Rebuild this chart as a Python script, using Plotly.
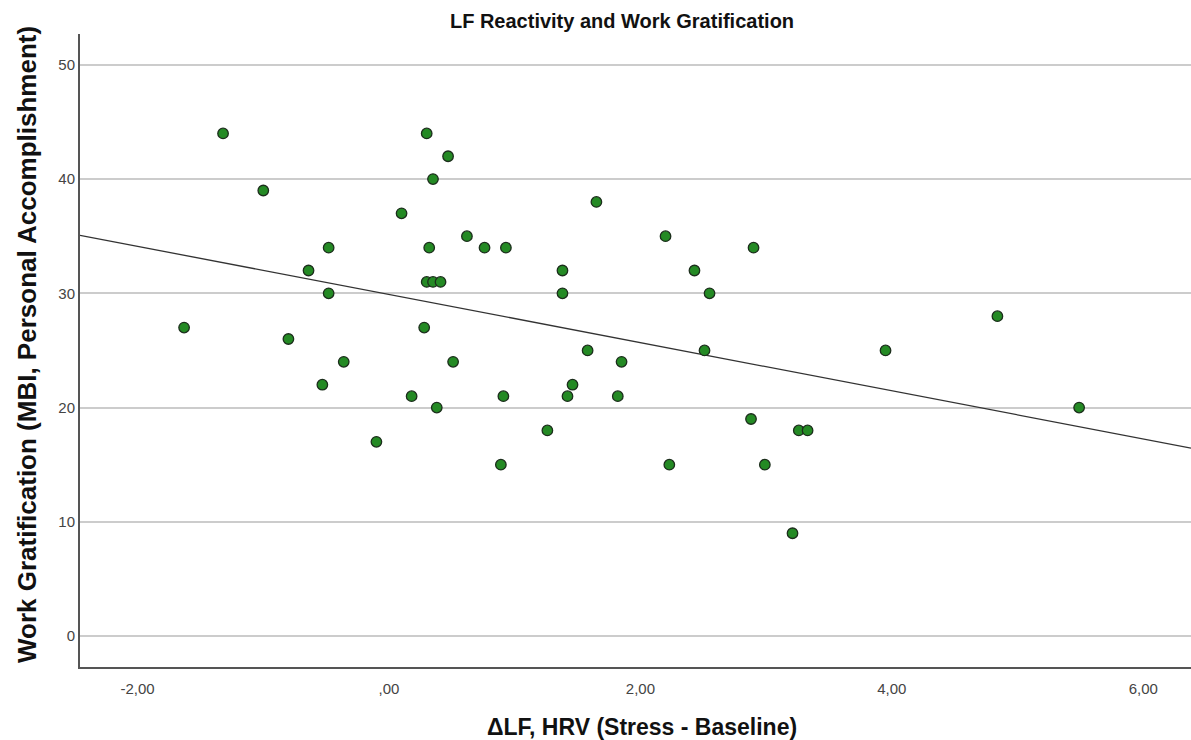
import numpy as np
import plotly.graph_objects as go

title = "LF Reactivity and Work Gratification"
x_label = "ΔLF, HRV (Stress - Baseline)"
y_label = "Work Gratification (MBI, Personal Accomplishment)"

delta_lf = [-1.63, -1.32, -1.00, -0.80, -0.64, -0.53, -0.48, -0.48, -0.36, -0.10,
            0.10, 0.18, 0.28, 0.30, 0.30, 0.32, 0.35, 0.35, 0.41, 0.38,
            0.47, 0.51, 0.62, 0.76, 0.89, 0.91, 0.93, 1.26, 1.38, 1.38,
            1.42, 1.46, 1.58, 1.65, 1.82, 1.85, 2.20, 2.23, 2.43, 2.51,
            2.55, 2.88, 2.90, 2.99, 3.21, 3.26, 3.33, 3.95, 4.84, 5.49]
work_grat = [27, 44, 39, 26, 32, 22, 34, 30, 24, 17,
             37, 21, 27, 44, 31, 34, 40, 31, 31, 20,
             42, 24, 35, 34, 15, 21, 34, 18, 32, 30,
             21, 22, 25, 38, 21, 24, 35, 15, 32, 25,
             30, 19, 34, 15, 9, 18, 18, 25, 28, 20]

x_ticks = [-2, 0, 2, 4, 6]
x_tick_text = ["-2,00", ",00", "2,00", "4,00", "6,00"]
y_ticks = [0, 10, 20, 30, 40, 50]

x_range = [-2.458, 6.38]
y_range = [-2.71, 52.7]

slope, intercept = np.polyfit(delta_lf, work_grat, 1)
fit_x = np.array(x_range)
fit_y = intercept + slope * fit_x

W, H = 1191, 740
L, R, T, B = 80, 0, 34, 73
pw, ph = W - L - R, H - T - B

fig = go.Figure()
fig.add_trace(go.Scatter(x=fit_x, y=fit_y, mode="lines",
                         line=dict(color="#333333", width=1.3),
                         hoverinfo="skip", showlegend=False))
fig.add_trace(go.Scatter(x=delta_lf, y=work_grat, mode="markers",
                         marker=dict(size=10.5, color="#248a24",
                                     line=dict(color="#1c2e1c", width=1.3)),
                         showlegend=False))

fig.update_layout(
    width=W, height=H,
    margin=dict(l=L, r=R, t=T, b=B),
    paper_bgcolor="white", plot_bgcolor="white",
    font=dict(family="Liberation Sans, Arial, sans-serif", color="#333333"),
    title=dict(text="<b>" + title + "</b>", x=622 / W, xref="container",
               xanchor="center", y=1 - 21 / H, yref="container", yanchor="middle",
               font=dict(size=20, color="#111111")),
    xaxis=dict(range=x_range, tickvals=x_ticks, ticktext=x_tick_text,
               showgrid=False, zeroline=False, showline=True,
               linecolor="#555555", linewidth=2, ticks="", ticklabelstandoff=7,
               tickfont=dict(size=15, color="#444444")),
    yaxis=dict(range=y_range, tickvals=y_ticks, showgrid=True,
               gridcolor="#cccccc", gridwidth=1.5, zeroline=False,
               showline=True, linecolor="#555555", linewidth=2, ticks="",
               tickfont=dict(size=15, color="#444444")),
    annotations=[
        dict(text="<b>" + x_label + "</b>", x=(642 - L) / pw, y=(H - B - 727) / ph,
             xref="paper", yref="paper", showarrow=False,
             font=dict(size=23, color="#111111"), xanchor="center", yanchor="middle"),
        dict(text="<b>" + y_label + "</b>", x=(27 - L) / pw, y=(H - B - 345) / ph,
             xref="paper", yref="paper", showarrow=False, textangle=-90,
             font=dict(size=26, color="#111111"), xanchor="center", yanchor="middle"),
    ],
)

fig.write_html("out.html", config={"displayModeBar": False},
               post_script="document.body.style.margin='0';document.body.style.overflow='hidden';")
